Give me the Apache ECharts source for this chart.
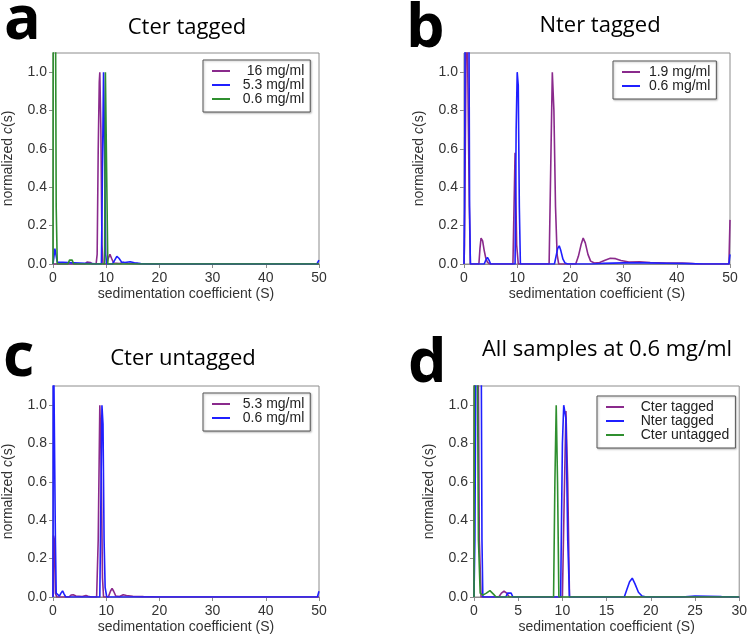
<!DOCTYPE html>
<html>
<head>
<meta charset="utf-8">
<script src="https://cdn.jsdelivr.net/npm/echarts@6/dist/echarts.min.js"></script>
<style>html,body{margin:0;padding:0;background:#fff}#c{width:750px;height:642px}</style>
</head>
<body>
<div id="c"></div>
<script>
// ---------- DATA ----------
const panelTitles = ['Cter tagged', 'Nter tagged', 'Cter untagged', 'All samples at 0.6 mg/ml'];
const panelLetters = ['a', 'b', 'c', 'd'];
const xTicksAB = [0, 10, 20, 30, 40, 50];
const xTicksD = [0, 5, 10, 15, 20, 25, 30];
const yTicks = [0.0, 0.2, 0.4, 0.6, 0.8, 1.0];

const legendA = ['16 mg/ml', '5.3 mg/ml', '0.6 mg/ml'];
const legendB = ['1.9 mg/ml', '0.6 mg/ml'];
const legendC = ['5.3 mg/ml', '0.6 mg/ml'];
const legendD = ['Cter tagged', 'Nter tagged', 'Cter untagged'];

// panel a
const a16 = [[0,0],[6.0,0],[6.4,0.01],[6.7,0.015],[7.0,0.008],[7.4,0],[8.1,0],[8.3,0.05],[8.5,0.6],[8.7,0.95],[8.8,1.0],[9.0,0.7],[9.2,0.1],[9.4,0],[10.1,0],[10.4,0.03],[10.7,0.05],[11.0,0.03],[11.4,0.005],[12.5,0.003],[13.2,0.008],[14,0.004],[16,0.002],[20,0],[50,0]];
const a53 = [[0,0],[0.15,0.03],[0.35,0.08],[0.55,0.07],[0.8,0.01],[1.1,0],[9.1,0],[9.3,0.5],[9.5,1.0],[9.7,0.6],[9.9,0.05],[10.1,0],[11.2,0],[11.6,0.02],[12.0,0.04],[12.4,0.03],[12.9,0.01],[13.5,0.008],[14.5,0.012],[15.3,0.006],[16.5,0.002],[18,0],[49.6,0],[50,0.02]];
const a06 = [[0,0],[0.05,1.5],[0.45,1.5],[0.6,0.3],[0.8,0],[2.8,0],[3.1,0.02],[3.35,0.03],[3.6,0.02],[3.9,0],[9.7,0],[9.85,1.0],[10.15,1.0],[10.3,0],[50,0]];

// panel b
const b19 = [[0,0],[0.1,0.1],[0.3,0.8],[0.5,1.5],[0.8,1.5],[1.0,0.3],[1.2,0],[2.8,0],[3.0,0.08],[3.2,0.135],[3.5,0.12],[3.8,0.07],[4.1,0.03],[4.4,0.01],[4.8,0],[9.2,0],[9.6,0.58],[9.9,0.1],[10.2,0],[16.0,0],[16.3,0.5],[16.6,1.0],[16.9,0.8],[17.2,0.3],[17.5,0.05],[17.8,0],[21.0,0],[21.5,0.04],[22.0,0.1],[22.4,0.135],[22.8,0.11],[23.3,0.05],[23.8,0.015],[24.5,0.005],[25.5,0.008],[26.5,0.02],[27.5,0.03],[28.5,0.028],[29.5,0.018],[31,0.01],[33,0.012],[35,0.008],[38,0.005],[41,0.005],[43,0.002],[44,0],[49.8,0],[50,0.23]];
const b06 = [[0,0],[0.1,0.3],[0.25,1.5],[0.9,1.5],[1.05,0.3],[1.2,0],[3.8,0],[4.1,0.02],[4.4,0.035],[4.7,0.02],[5.0,0],[9.6,0],[9.8,0.7],[10.0,1.0],[10.2,0.93],[10.4,0.3],[10.6,0],[17.0,0],[17.3,0.04],[17.6,0.08],[17.9,0.095],[18.2,0.07],[18.6,0.025],[19.0,0.005],[19.5,0],[24,0],[26,0.003],[30,0.006],[34,0.006],[38,0.004],[42,0.002],[45,0],[49.8,0],[50,0.05]];

// panel c
const c53 = [[0,0],[0.1,0.32],[0.25,0.3],[0.45,0.02],[0.7,0],[3.0,0],[3.4,0.01],[3.8,0.012],[4.3,0.005],[5.5,0.003],[6.2,0.008],[6.6,0.004],[7.2,0],[8.2,0],[8.5,0.3],[8.8,1.0],[9.0,0.8],[9.3,0.1],[9.5,0],[10.4,0],[10.8,0.03],[11.1,0.045],[11.4,0.03],[11.8,0.005],[12.5,0.003],[13.2,0.012],[13.8,0.008],[15,0.004],[17,0.002],[20,0],[50,0]];
const c06 = [[0,0],[0.05,1.5],[0.3,1.5],[0.45,0.3],[0.6,0.02],[0.9,0.01],[1.2,0.005],[1.5,0.02],[1.8,0.032],[2.1,0.015],[2.4,0],[8.8,0],[9.0,0.5],[9.2,1.0],[9.4,0.9],[9.6,0.3],[9.8,0.05],[10.1,0],[20,0],[49.7,0],[50,0.03]];

// panel d
const dCterTagged = [[0,0],[0.05,1.5],[0.45,1.5],[0.6,0.3],[0.8,0],[2.8,0],[3.1,0.02],[3.4,0.03],[3.7,0.02],[4.0,0],[10.0,0],[10.2,0.5],[10.4,0.97],[10.6,0.6],[10.8,0],[30,0]];
const dNterTagged = [[0,0],[0.1,0.3],[0.25,1.5],[0.8,1.5],[0.9,0.3],[1.0,0],[3.6,0],[3.8,0.02],[4.0,0.028],[4.2,0.02],[4.4,0],[9.8,0],[10.0,0.8],[10.15,1.0],[10.4,0.93],[10.6,0.3],[10.8,0],[17.0,0],[17.3,0.04],[17.6,0.08],[17.9,0.098],[18.2,0.07],[18.6,0.025],[19.0,0.005],[19.5,0],[23.5,0],[25,0.005],[26.5,0.004],[28,0.002],[30,0]];
const dCterUntagged = [[0,0],[0.05,1.5],[0.35,1.5],[0.5,0.3],[0.7,0.02],[1.0,0.01],[1.4,0.02],[1.8,0.033],[2.2,0.015],[2.5,0],[9.0,0],[9.15,0.6],[9.3,1.0],[9.45,0.6],[9.6,0],[30,0]];

// ---------- STYLE ----------
const PURPLE = '#8a2a8c', BLUE = '#1f1fff', GREEN = '#2f8f2f';
const TICKFONT = "'Liberation Sans', Arial, sans-serif";
const TITLEFONT = "'Open Sans', sans-serif";

const grids = [
  {left: 53, right: 431, top: 53, bottom: 378},
  {left: 464, right: 20, top: 53, bottom: 378},
  {left: 53, right: 431, top: 386, bottom: 45},
  {left: 474, right: 9, top: 386, bottom: 45}
].map(g => Object.assign({show: true, borderColor: '#8c8c8c', borderWidth: 1, backgroundColor: '#fff', containLabel: false}, g));

function xAxisFor(i, max, interval) {
  return {
    type: 'value', gridIndex: i, min: 0, max: max, interval: interval,
    name: 'sedimentation coefficient (S)', nameLocation: 'middle', nameGap: 23,
    nameTextStyle: {fontSize: 14, fontFamily: TICKFONT, color: '#333'},
    axisLine: {show: true, onZero: false, lineStyle: {color: '#8c8c8c', width: 1}},
    axisTick: {show: true, length: 4, lineStyle: {color: '#8c8c8c'}},
    axisLabel: {fontSize: 14, fontFamily: TICKFONT, color: '#333', margin: 7},
    splitLine: {show: false}
  };
}
function yAxisFor(i) {
  return {
    type: 'value', gridIndex: i, min: 0, max: 1.1, interval: 0.2,
    name: 'normalized {i|c}(s)', nameLocation: 'middle', nameGap: 38,
    nameTextStyle: {fontSize: 14, fontFamily: TICKFONT, color: '#333',
      rich: {i: {fontStyle: 'italic', fontSize: 14, fontFamily: TICKFONT, color: '#333'}}},
    axisLine: {show: true, lineStyle: {color: '#8c8c8c', width: 1}},
    axisTick: {show: true, length: 4, lineStyle: {color: '#8c8c8c'}},
    axisLabel: {fontSize: 14, fontFamily: TICKFONT, color: '#333', margin: 6,
      showMaxLabel: false, formatter: v => (v > 1.05 ? '' : v.toFixed(1))},
    splitLine: {show: false}
  };
}

function ser(panel, name, data, color, idx) {
  return {
    type: 'line', name: panel + '|' + name, xAxisIndex: idx, yAxisIndex: idx,
    data: data, color: color, showSymbol: false, symbol: 'none', smooth: false,
    clip: true, lineStyle: {width: 1.6, color: color}, animation: false
  };
}

const series = [
  ser('a', legendA[0], a16, PURPLE, 0),
  ser('a', legendA[1], a53, BLUE, 0),
  ser('a', legendA[2], a06, GREEN, 0),
  ser('b', legendB[0], b19, PURPLE, 1),
  ser('b', legendB[1], b06, BLUE, 1),
  ser('c', legendC[0], c53, PURPLE, 2),
  ser('c', legendC[1], c06, BLUE, 2),
  ser('d', legendD[0], dCterTagged, PURPLE, 3),
  ser('d', legendD[1], dNterTagged, BLUE, 3),
  ser('d', legendD[2], dCterUntagged, GREEN, 3)
];

function legendFor(panel, names, left, top, pads) {
  return {
    orient: 'vertical', left: left, top: top,
    data: names.map(n => panel + '|' + n),
    formatter: name => (pads[names.indexOf(name.split('|')[1])] || '') + name.split('|')[1],
    icon: 'rect', itemWidth: 18, itemHeight: 2, itemGap: 0,
    padding: [4, 6, 6, 9],
    borderColor: '#555', borderWidth: 1, borderRadius: 0, backgroundColor: '#fff',
    shadowColor: 'rgba(0,0,0,0.25)', shadowBlur: 2, shadowOffsetX: 1, shadowOffsetY: 1,
    textStyle: {fontSize: 14, lineHeight: 14, fontFamily: TICKFONT, color: '#222'},
    selectedMode: false
  };
}

const titlePos = [[187, 27.5], [600, 26], [183, 359], [607, 350]];
const letterPos = [[4, 22], [406, 30], [3, 359], [408, 365]];
const graphic = [];
panelTitles.forEach((t, i) => graphic.push({
  type: 'text', x: titlePos[i][0], y: titlePos[i][1], z: 100,
  style: {text: t, fontSize: 22, fontFamily: TITLEFONT, fill: '#000', align: 'center', verticalAlign: 'middle'}
}));
panelLetters.forEach((t, i) => graphic.push({
  type: 'text', x: letterPos[i][0], y: letterPos[i][1], z: 100,
  style: {text: t, fontSize: 61, fontWeight: 'bold', fontFamily: TITLEFONT, fill: '#000', align: 'left', verticalAlign: 'middle'}
}));

const option = {
  backgroundColor: '#fff',
  animation: false,
  grid: grids,
  xAxis: [xAxisFor(0, 50, 10), xAxisFor(1, 50, 10), xAxisFor(2, 50, 10), xAxisFor(3, 30, 5)],
  yAxis: [yAxisFor(0), yAxisFor(1), yAxisFor(2), yAxisFor(3)],
  legend: [
    legendFor('a', legendA, 203, 60, ['   ', '  ', '  ']),
    legendFor('b', legendB, 613, 61, [' ', ' ']),
    legendFor('c', legendC, 203, 393, ['  ', '  ']),
    legendFor('d', legendD, 597, 396, ['   ', '   ', '   '])
  ],
  series: series,
  graphic: graphic
};

const chart = echarts.init(document.getElementById('c'), null, {renderer: 'canvas'});
chart.setOption(option);
</script>
</body>
</html>
